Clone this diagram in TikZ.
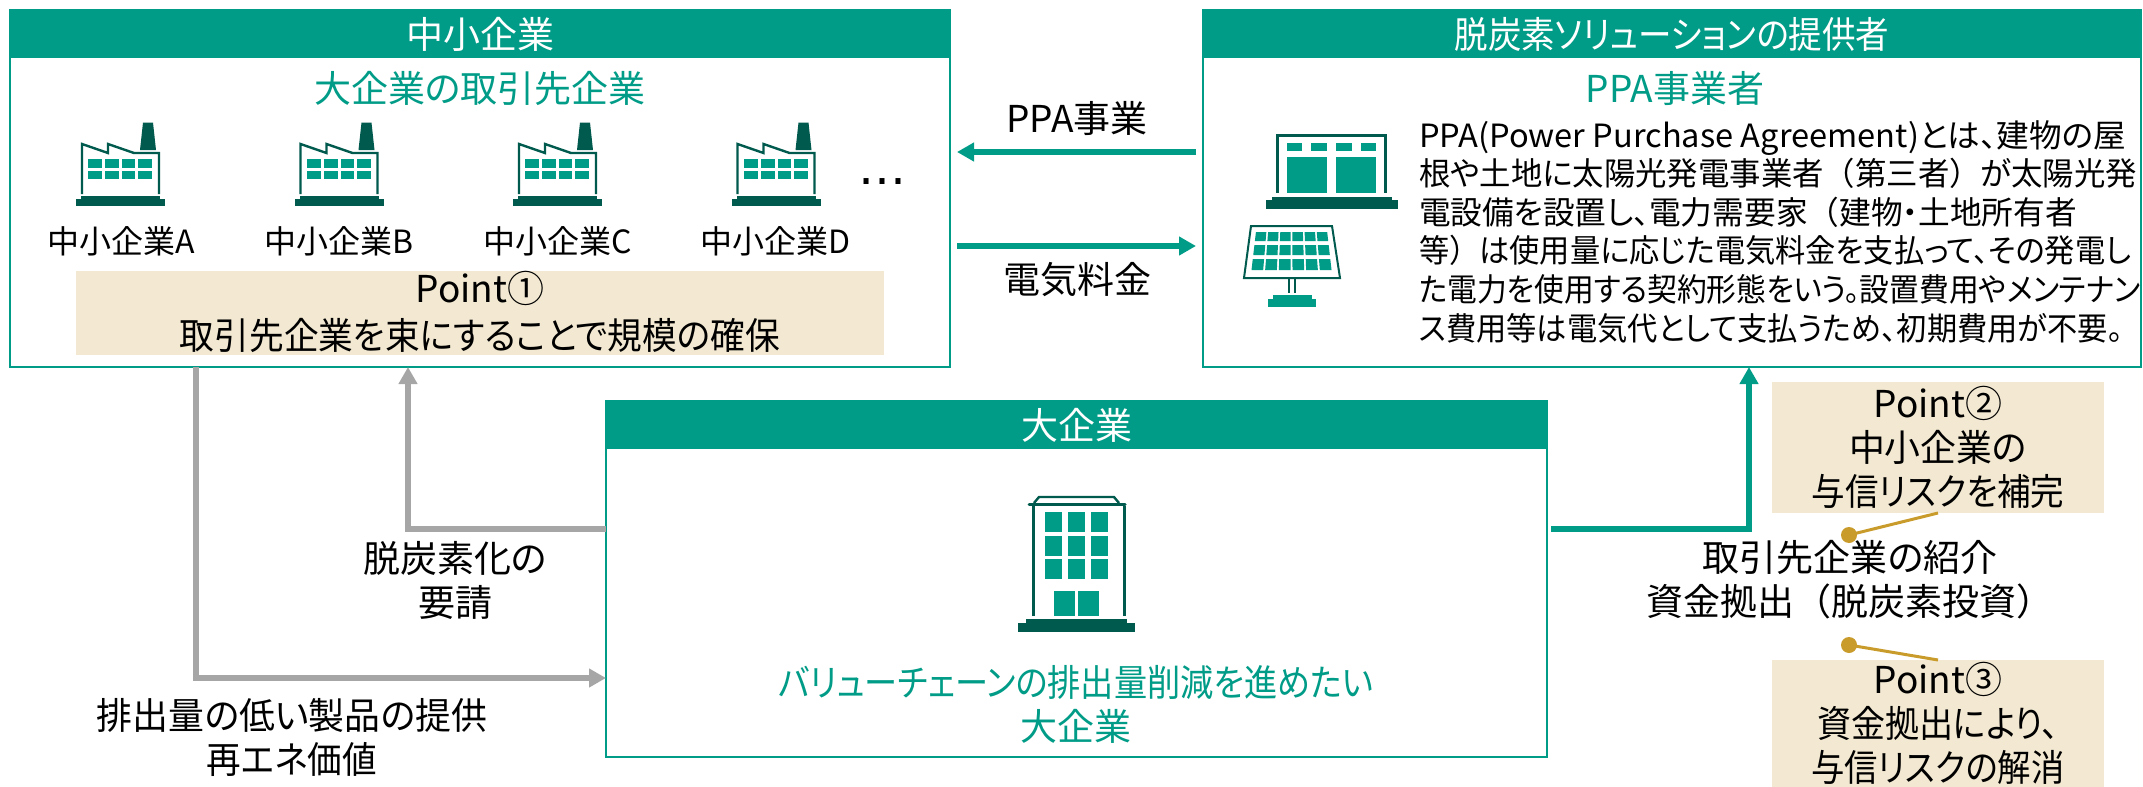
\documentclass[tikz,border=0pt]{standalone}
\usepackage{graphicx}
\usepackage{fontspec}
\usetikzlibrary{arrows.meta}
\setmainfont[RawFeature={+palt}]{Noto Sans CJK JP}
\newfontfamily\fw{Noto Sans CJK JP}
\newfontfamily\dotsfont{DejaVu Sans}
\definecolor{teal1}{HTML}{009C87}
\definecolor{dark1}{HTML}{005A4E}
\definecolor{beige1}{HTML}{F3E9D2}
\definecolor{gold1}{HTML}{C99B2B}
\definecolor{gray1}{HTML}{A6A6A6}
\newcommand{\fsA}{\fontsize{18.5pt}{22pt}\selectfont}
\newcommand{\fsB}{\fontsize{16pt}{19.3pt}\selectfont}
\newcommand{\fitx}[2]{\resizebox{#1pt}{\height}{#2}}
\newcommand{\lp}{{\fw（}}
\newcommand{\rp}{{\fw）}}
\tikzset{
  x=0.5pt,y=-0.5pt,
  panel/.style={draw=teal1,line width=1pt,fill=white,inner sep=0pt,outer sep=0pt},
  hdr/.style={fill=teal1,text=white,inner sep=0pt,outer sep=0pt,font=\fsA,minimum height=24pt},
  lab/.style={inner sep=0pt,outer sep=0pt,align=center,font=\fsA,text=black},
  tlab/.style={lab,text=teal1},
  smalllab/.style={inner sep=0pt,outer sep=0pt,font=\fsB,text=black},
  pointbox/.style={fill=beige1,inner sep=0pt,outer sep=0pt,align=center,font=\fsA,text=black},
  tealarrow/.style={draw=teal1,line width=3.2pt,-{Triangle[length=8.5pt,width=9pt]}},
  grayarrow/.style={draw=gray1,line width=3.2pt,-{Triangle[length=8.5pt,width=9pt]}},
  goldline/.style={draw=gold1,line width=1.5pt},
  golddot/.style={circle,fill=gold1,inner sep=0pt,outer sep=0pt,minimum size=8pt},
  darkline/.style={draw=dark1,line width=1.5pt},
}
\newcommand{\factory}[1]{%
  \begin{scope}[xshift=#1*0.5pt]
    \fill[dark1] (76,199) rectangle (165,206);
    \fill[dark1] (81,196) rectangle (160,200);
    \draw[dark1,line width=1.2pt] (82,194) -- (82,144) -- (108,153) -- (108,144) -- (134,153) -- (159,153) -- (159,194);
    \fill[dark1] (140,150) -- (143,122.5) -- (153,122.5) -- (156,150) -- cycle;
    \foreach \a/\b in {88/102,105/119,122/135,138/152}{
      \fill[teal1] (\a,159) rectangle (\b,168);
      \fill[teal1] (\a,171) rectangle (\b,179);
    }
  \end{scope}}
\newcommand{\solarcell}[3]{% column, top y, bottom y
  \pgfmathsetmacro{\tl}{(#1)/6+0.006}
  \pgfmathsetmacro{\tr}{(#1+1)/6-0.018}
  \pgfmathsetmacro{\ht}{36.5+(#2-232)*4.5/38}
  \pgfmathsetmacro{\hb}{36.5+(#3-232)*4.5/38}
  \fill[teal1] ({1292+(\tl-0.5)*2*\ht},#2) -- ({1292+(\tr-0.5)*2*\ht},#2) -- ({1292+(\tr-0.5)*2*\hb},#3) -- ({1292+(\tl-0.5)*2*\hb},#3) -- cycle;}
\begin{document}
\begin{tikzpicture}
\useasboundingbox (0,0) rectangle (2143,787);
% panels
\node[panel,minimum width=470pt,minimum height=178.5pt] (sme) at (480,188.5) {};
\node[hdr,minimum width=470pt] (smeh) at (480,34) {中小企業};
\node[panel,minimum width=469pt,minimum height=178.5pt] (ppa) at (1672,188.5) {};
\node[hdr,minimum width=469pt] (ppah) at (1672,34) {\fitx{217.5}{脱炭素ソリューションの提供者}};
\node[panel,minimum width=470.5pt,minimum height=178pt] (big) at (1076.5,579) {};
\node[hdr,minimum width=470.5pt] (bigh) at (1076.5,425) {大企業};
% sme content
\node[tlab] (smesub) at (480,88) {大企業の取引先企業};
\factory{0}\factory{218.5}\factory{437}\factory{655.5}
\node[smalllab] (sa) at (121,241) {中小企業A};
\node[smalllab] (sb) at (339,241) {中小企業B};
\node[smalllab] (sc) at (557.5,241) {中小企業C};
\node[smalllab] (sd) at (776,241) {中小企業D};
\node[anchor=base,inner sep=0pt,font=\fontsize{24pt}{24pt}\dotsfont] (more) at (882,184) {…};
\node[pointbox,minimum width=404pt,minimum height=42pt] (p1) at (480,313) {};
\node[lab] (p1t) at (480,312) {Point①\\[1.5pt]\fitx{300}{取引先企業を束にすることで規模の確保}};
% ppa content
\node[tlab] (ppasub) at (1675,88) {PPA事業者};
\fill[dark1] (1266,200) rectangle (1398,209);
\fill[dark1] (1272,197) rectangle (1392,201);
\draw[darkline] (1277.5,193) -- (1277.5,135.5) -- (1385.5,135.5) -- (1385.5,193);
\foreach \a/\b in {1287/1302,1311/1327,1336/1352,1361/1376}{\fill[teal1] (\a,143) rectangle (\b,151);}
\fill[teal1] (1287,157) rectangle (1327,193);
\fill[teal1] (1336,157) rectangle (1376,193);
\draw[dark1,line width=1pt] (1251,226) -- (1332,226) -- (1340,278) -- (1244,278) -- cycle;
\foreach \c in {0,...,5}{\solarcell{\c}{232}{241}\solarcell{\c}{245}{255}\solarcell{\c}{259}{270}}
\draw[dark1,line width=1.2pt] (1289,278) -- (1289,293) (1295,278) -- (1295,293);
\fill[teal1] (1273,295) rectangle (1312,300);
\fill[teal1] (1268,299) rectangle (1316,307);
\node[anchor=west,inner sep=0pt,outer sep=0pt,align=left,font=\fsB] (para) at (1419,231.5) {\fitx{353.5}{PPA(Power Purchase Agreement)とは、建物の屋}\\\fitx{359}{根や土地に太陽光発電事業者\lp 第三者\rp が太陽光発}\\\fitx{329}{電設備を設置し、電力需要家\lp 建物・土地所有者}\\\fitx{356}{等\rp は使用量に応じた電気料金を支払って、その発電し}\\\fitx{361}{た電力を使用する契約形態をいう。設置費用やメンテナン}\\\fitx{352}{ス費用等は電気代として支払うため、初期費用が不要。}};
% big content
\fill[dark1] (1018,623) rectangle (1135,632);
\fill[dark1] (1026,619) rectangle (1127,624);
\draw[darkline] (1033,616) -- (1033,506) (1124,616) -- (1124,506);
\draw[dark1,line width=1.5pt,line cap=round] (1029,504) -- (1125,504);
\draw[dark1,line width=1.2pt] (1034,503) -- (1039,497) -- (1114,497) -- (1119,503);
\foreach \a/\b in {1045/1062,1068/1085,1091/1108}{\foreach \c/\d in {512/532,536/556,559/579}{\fill[teal1] (\a,\c) rectangle (\b,\d);}}
\fill[teal1] (1054,591) rectangle (1075,616);
\fill[teal1] (1078,591) rectangle (1099,616);
\node[tlab] (bigsub) at (1076,704) {\fitx{297.5}{バリューチェーンの排出量削減を進めたい}\\大企業};
% arrows
\coordinate (ppaL) at (1196,152);
\coordinate (smeR) at (957,152);
\coordinate (smeR2) at (957,246);
\coordinate (ppaL2) at (1196,246);
\coordinate (bigR) at (1551,529);
\draw[tealarrow] (ppaL) -- (smeR);
\node[lab] (lppa) at (1077,118) {PPA事業};
\draw[tealarrow] (smeR2) -- (ppaL2);
\node[lab] (lfee) at (1077,280) {電気料金};
\draw[tealarrow] (bigR) -| (1749,0 |- ppa.south);
\draw[grayarrow] (big.west |- 0,529) -| (408,0 |- sme.south);
\draw[grayarrow] (196,0 |- sme.south) |- (big.west |- 0,678);
\node[lab] (lreq) at (455,580.5) {脱炭素化の\\要請};
\node[lab] (lprod) at (292,737.5) {\fitx{195}{排出量の低い製品の提供}\\\fitx{85}{再エネ価値}};
\node[lab] (lint) at (1850,580) {取引先企業の紹介\\資金拠出\lp 脱炭素投資\rp};
% points
\node[pointbox,minimum width=166pt,minimum height=65.5pt] (p2) at (1938,447.5) {Point②\\\fitx{89}{中小企業の}\\\fitx{126.5}{与信リスクを補完}};
\node[pointbox,minimum width=166pt,minimum height=63.5pt] (p3) at (1938,723.5) {Point③\\\fitx{121}{資金拠出により、}\\\fitx{126.5}{与信リスクの解消}};
\node[golddot] (d2) at (1849,535) {};
\node[golddot] (d3) at (1849,645) {};
\draw[goldline] (d2.center) -- (p2.south);
\draw[goldline] (d3.center) -- (p3.north);
\end{tikzpicture}
\end{document}
